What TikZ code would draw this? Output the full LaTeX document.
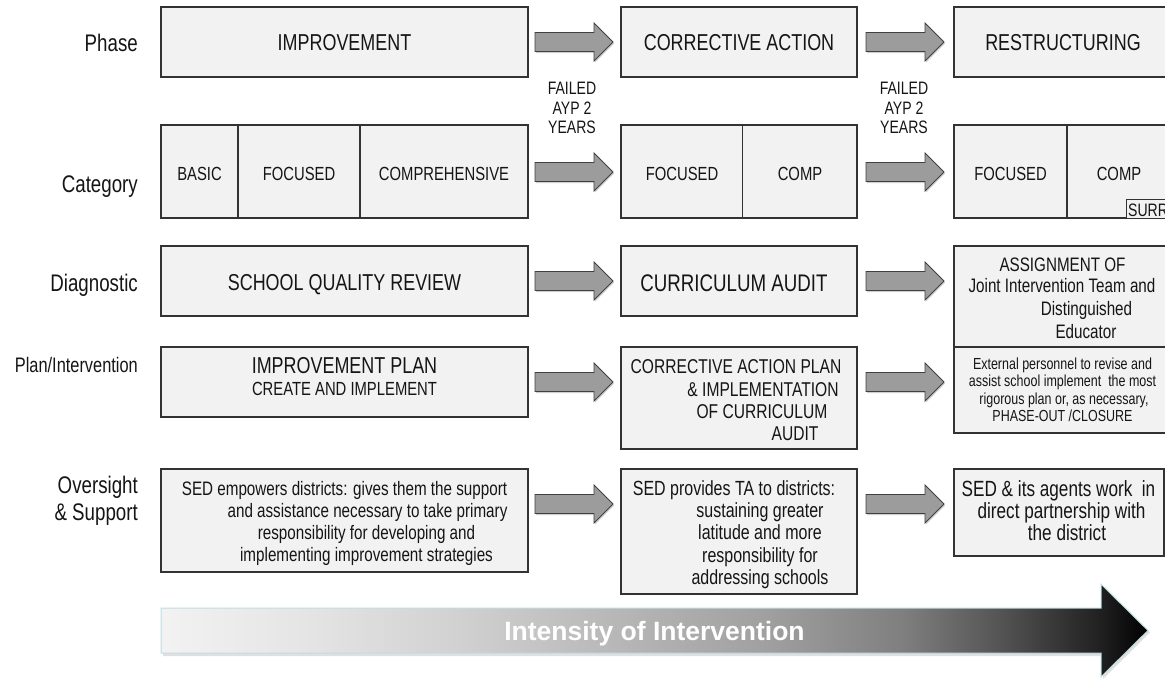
\documentclass[tikz,border=0pt]{standalone}
\usepackage{fontspec}
\setmainfont{Liberation Sans}[FakeStretch=0.78]
\newfontfamily\widefont{Liberation Sans}
\usetikzlibrary{calc}
\definecolor{boxfill}{HTML}{F2F2F2}
\definecolor{boxline}{HTML}{333333}
\definecolor{arrfill}{HTML}{9C9C9C}
\definecolor{arrline}{HTML}{404040}
\definecolor{arrshadow}{HTML}{CFCFCF}
\definecolor{bigedge}{RGB}{190,222,226}
\definecolor{txt}{HTML}{151515}
\pgfdeclarehorizontalshading{intensity}{100bp}{color(0bp)=(black!5); color(25bp)=(black!5); color(32bp)=(black!10); color(40bp)=(black!18); color(49.5bp)=(black!30); color(55.5bp)=(black!37); color(62.5bp)=(black!50); color(67.5bp)=(black!67); color(72.5bp)=(black!87); color(75bp)=(black); color(100bp)=(black)}
\begin{document}
\begin{tikzpicture}[x=1pt,y=-1pt,
  box/.style={draw=boxline, fill=boxfill, line width=1.2pt, inner sep=0, outer sep=0, anchor=north west},
  divline/.style={draw=boxline, line width=1.2pt},
  txtn/.style={inner sep=0, anchor=base, text=txt, font=\fontsize{#1}{#1}\selectfont},
  lab/.style={inner sep=0, anchor=base east, text=txt, font=\fontsize{#1}{#1}\selectfont},
  arr/.style={draw=arrline, fill=arrfill, line width=0.8pt, line join=miter},
  blockarr/.pic={
    \fill[arrshadow] (1,-8) -- (60,-8) -- (60,-17.5) -- (79,1.5) -- (60,20.5) -- (60,11) -- (1,11) -- cycle;
    \draw[arr] (0,-9.5) -- (59,-9.5) -- (59,-19) -- (78,0) -- (59,19) -- (59,9.5) -- (0,9.5) -- cycle;
  }
]
\useasboundingbox (0,0) rectangle (1165,678);

% ---------- row labels ----------
\node[lab=24] (lPhase) at (138,51) {Phase};
\node[lab=24] (lCat) at (138,192) {Category};
\node[lab=24] (lDiag) at (138,291.5) {Diagnostic};
\node[lab=21] (lPlan) at (138,372) {Plan/Intervention};
\node[lab=24] (lOv1) at (138,493) {Oversight};
\node[lab=24] (lOv2) at (138,520) {\&~Support};

% ---------- boxes ----------
% phase
\node[box, minimum width=367, minimum height=70] (phA) at (161,7) {};
\node[box, minimum width=236, minimum height=70] (phB) at (621,7) {};
\node[box, minimum width=220, minimum height=70] (phC) at (954,7) {};
% category
\node[box, minimum width=367, minimum height=93] (catA) at (161,125) {};
\node[box, minimum width=236, minimum height=93] (catB) at (621,125) {};
\node[box, minimum width=220, minimum height=93] (catC) at (954,125) {};
\draw[divline] (238,125) -- (238,218);
\draw[divline] (360,125) -- (360,218);
\draw[divline] (742.5,125) -- (742.5,218);
\draw[divline] (1067,125) -- (1067,218);
\node[box, minimum width=50, minimum height=19, line width=1pt] (surr) at (1126,199) {};
% diagnostic
\node[box, minimum width=367, minimum height=70] (diA) at (161,246) {};
\node[box, minimum width=236, minimum height=70] (diB) at (621,246) {};
\node[box, minimum width=220, minimum height=101] (diC) at (954,246) {};
% plan
\node[box, minimum width=367, minimum height=70] (plA) at (161,347) {};
\node[box, minimum width=236, minimum height=102] (plB) at (621,347) {};
\node[box, minimum width=220, minimum height=86] (plC) at (954,347) {};
% oversight
\node[box, minimum width=367, minimum height=103] (ovA) at (161,469) {};
\node[box, minimum width=236, minimum height=125] (ovB) at (621,469) {};
\node[box, minimum width=210, minimum height=87] (ovC) at (954,469) {};

% ---------- block arrows ----------
\pic (a1) at (535,42) {blockarr};
\pic (a2) at (866,42) {blockarr};
\pic (b1) at (535,172) {blockarr};
\pic (b2) at (866,172) {blockarr};
\pic (c1) at (535,281) {blockarr};
\pic (c2) at (866,281) {blockarr};
\pic (d1) at (535,382) {blockarr};
\pic (d2) at (866,382) {blockarr};
\pic (e1) at (535,504) {blockarr};
\pic (e2) at (866,504) {blockarr};

% ---------- texts ----------
\node[txtn=23] (tImp) at (344.5,50.5) {IMPROVEMENT};
\node[txtn=23] (tCA) at (739,50.5) {CORRECTIVE ACTION};
\node[txtn=23] (tRes) at (1063,50.5) {RESTRUCTURING};

\node[txtn=18] (f1a) at (572,94.5) {FAILED};
\node[txtn=18] (f1b) at (572,114) {AYP 2};
\node[txtn=18] (f1c) at (572,133) {YEARS};
\node[txtn=18] (f2a) at (904,94.5) {FAILED};
\node[txtn=18] (f2b) at (904,114) {AYP 2};
\node[txtn=18] (f2c) at (904,133) {YEARS};

\node[txtn=19] (cBasic) at (199.5,180) {BASIC};
\node[txtn=19] (cFocA) at (299,180) {FOCUSED};
\node[txtn=19] (cComp) at (444,180) {COMPREHENSIVE};
\node[txtn=19] (cFocB) at (682,180) {FOCUSED};
\node[txtn=19] (cCompB) at (800,180) {COMP};
\node[txtn=19] (cFocC) at (1010.5,180) {FOCUSED};
\node[txtn=19] (cCompC) at (1119,180) {COMP};
\node[txtn=18, anchor=base west] (cSurr) at (1128,216) {SURR};

\node[txtn=23] (dSQR) at (344.5,290) {SCHOOL QUALITY REVIEW};
\node[txtn=24] (dCA) at (734,291) {CURRICULUM AUDIT};
\node[txtn=19.5] (dC1) at (1062.5,271.5) {ASSIGNMENT OF};
\node[txtn=19.5] (dC2) at (1062,292.5) {Joint Intervention Team and};
\node[txtn=19.5] (dC3) at (1086.5,315) {Distinguished};
\node[txtn=19.5] (dC4) at (1086,338) {Educator};

\node[txtn=23] (pA1) at (344.5,373) {IMPROVEMENT PLAN};
\node[txtn=19] (pA2) at (344.5,395) {CREATE AND IMPLEMENT};
\node[txtn=20] (pB1) at (736,373) {CORRECTIVE ACTION PLAN};
\node[txtn=20] (pB2) at (763,396) {\& IMPLEMENTATION};
\node[txtn=20] (pB3) at (762,418) {OF CURRICULUM};
\node[txtn=20] (pB4) at (795,440.5) {AUDIT};
\node[txtn=16] (pC1) at (1062.5,369) {External personnel to revise and};
\node[txtn=16] (pC2) at (1062.5,386.5) {assist school implement~ the most};
\node[txtn=16] (pC3) at (1064,404) {rigorous plan or, as necessary,};
\node[txtn=16] (pC4) at (1062.5,421.5) {PHASE-OUT /CLOSURE};

\node[txtn=19.5] (oA1) at (344.5,495) {SED empowers districts: gives them the support};
\node[txtn=19.5] (oA2) at (367.5,517) {and assistance necessary to take primary};
\node[txtn=19.5] (oA3) at (366.5,539) {responsibility for developing and};
\node[txtn=19.5] (oA4) at (366.5,561.5) {implementing improvement strategies};
\node[txtn=20.5] (oB1) at (734,495) {SED provides TA to districts:};
\node[txtn=20.5] (oB2) at (760,517) {sustaining greater};
\node[txtn=20.5] (oB3) at (760,539.5) {latitude and more};
\node[txtn=20.5] (oB4) at (760,562) {responsibility for};
\node[txtn=20.5] (oB5) at (760,584) {addressing schools};
\node[txtn=22] (oC1) at (1058.5,496) {SED \& its agents work~ in};
\node[txtn=22] (oC2) at (1061.5,518) {direct partnership with};
\node[txtn=22] (oC3) at (1067,540) {the district};

% ---------- intensity arrow ----------
\fill[black!12] (163,610) -- (1103,610) -- (1103,586) -- (1150,632.5) -- (1103,679) -- (1103,656) -- (163,656) -- cycle;
\shade[shading=intensity, draw=bigedge, line width=1pt] (161,608) -- (1101,608) -- (1101,584) -- (1148,630.5) -- (1101,677) -- (1101,653) -- (161,653) -- cycle;
\node[inner sep=0, anchor=base, text=white, font=\widefont\bfseries\fontsize{26.5}{26.5}\selectfont] (intens) at (654.5,640.5) {Intensity of Intervention};
\end{tikzpicture}
\end{document}
